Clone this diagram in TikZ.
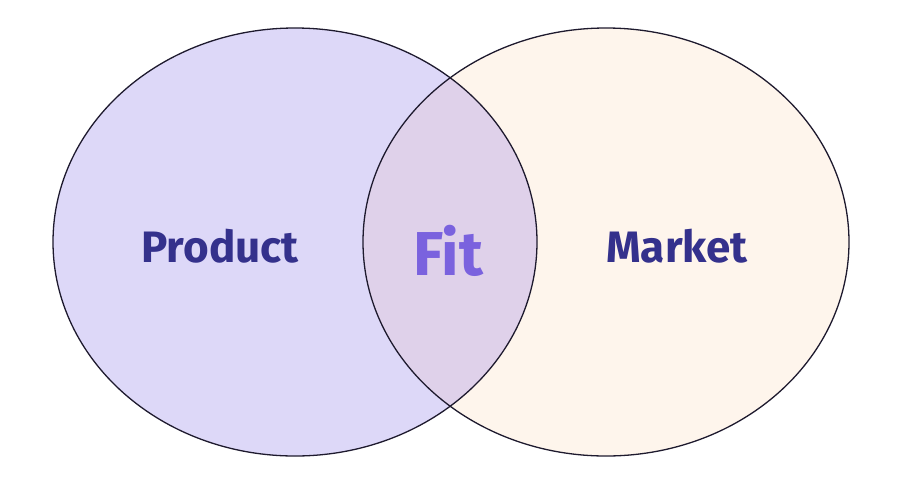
\documentclass[tikz,border=0pt]{standalone}
\usepackage{fontspec}
\setmainfont{Fira Sans}
\definecolor{lfill}{HTML}{DDD8F8}
\definecolor{rfill}{HTML}{FEF5EC}
\definecolor{mfill}{HTML}{DFD1EA}
\definecolor{navy}{HTML}{34318C}
\definecolor{fitc}{HTML}{7A62DE}
\definecolor{edge}{HTML}{1E1A2E}
\begin{document}
\begin{tikzpicture}[x=1pt,y=-1pt,
  circ/.style={draw=edge,line width=1.3pt},
  lbl/.style={text=navy,font=\bfseries\fontsize{44}{44}\selectfont,inner sep=0pt},
  fitlbl/.style={text=fitc,font=\bfseries\fontsize{62}{62}\selectfont,inner sep=0pt}]
\useasboundingbox (0,0) rectangle (919,483);
\fill[rfill] (606,242) ellipse [x radius=243,y radius=214];
\fill[lfill] (295,242) ellipse [x radius=242,y radius=214];
\begin{scope}
  \clip (295,242) ellipse [x radius=242,y radius=214];
  \fill[mfill] (606,242) ellipse [x radius=243,y radius=214];
\end{scope}
\draw[circ] (606,242) ellipse [x radius=243,y radius=214];
\draw[circ] (295,242) ellipse [x radius=242,y radius=214];
\node[lbl,anchor=base] (product) at (220,262) {Product};
\node[lbl,anchor=base] (market) at (677,262) {Market};
\node[fitlbl,anchor=base] (fit) at (448,275) {Fit};
\end{tikzpicture}
\end{document}
